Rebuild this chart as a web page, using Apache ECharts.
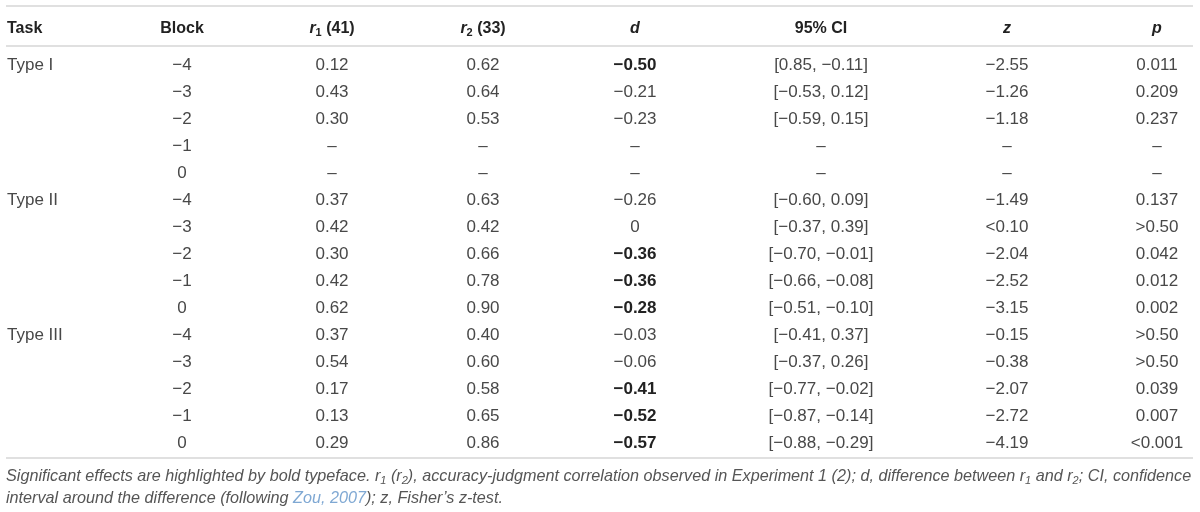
<!DOCTYPE html>
<html>
<head>
<meta charset="utf-8">
<script src="https://cdn.jsdelivr.net/npm/echarts@6.0.0/dist/echarts.min.js"></script>
<style>
  html, body { margin: 0; padding: 0; background: #fff; }
  #chart { width: 1200px; height: 512px; }
</style>
</head>
<body>
<div id="chart"></div>
<script>
// table content
const headers = ['Task', 'Block', '{bi|r}{bs|1}{b| (41)}', '{bi|r}{bs|2}{b| (33)}', '{bi|d}', '95% CI', '{bi|z}', '{bi|p}'];
const tasks = ['Type I', '', '', '', '', 'Type II', '', '', '', '', 'Type III', '', '', '', ''];
const blocks = ['\u22124', '\u22123', '\u22122', '\u22121', '0', '\u22124', '\u22123', '\u22122', '\u22121', '0', '\u22124', '\u22123', '\u22122', '\u22121', '0'];
const r1 = ['0.12', '0.43', '0.30', '\u2013', '\u2013', '0.37', '0.42', '0.30', '0.42', '0.62', '0.37', '0.54', '0.17', '0.13', '0.29'];
const r2 = ['0.62', '0.64', '0.53', '\u2013', '\u2013', '0.63', '0.42', '0.66', '0.78', '0.90', '0.40', '0.60', '0.58', '0.65', '0.86'];
const dVals = ['\u22120.50', '\u22120.21', '\u22120.23', '\u2013', '\u2013', '\u22120.26', '0', '\u22120.36', '\u22120.36', '\u22120.28', '\u22120.03', '\u22120.06', '\u22120.41', '\u22120.52', '\u22120.57'];
const significant = [true, false, false, false, false, false, false, true, true, true, false, false, true, true, true];
const ci = ['[0.85, \u22120.11]', '[\u22120.53, 0.12]', '[\u22120.59, 0.15]', '\u2013', '\u2013', '[\u22120.60, 0.09]', '[\u22120.37, 0.39]', '[\u22120.70, \u22120.01]', '[\u22120.66, \u22120.08]', '[\u22120.51, \u22120.10]', '[\u22120.41, 0.37]', '[\u22120.37, 0.26]', '[\u22120.77, \u22120.02]', '[\u22120.87, \u22120.14]', '[\u22120.88, \u22120.29]'];
const zVals = ['\u22122.55', '\u22121.26', '\u22121.18', '\u2013', '\u2013', '\u22121.49', '<0.10', '\u22122.04', '\u22122.52', '\u22123.15', '\u22120.15', '\u22120.38', '\u22122.07', '\u22122.72', '\u22124.19'];
const pVals = ['0.011', '0.209', '0.237', '\u2013', '\u2013', '0.137', '>0.50', '0.042', '0.012', '0.002', '>0.50', '>0.50', '0.039', '0.007', '<0.001'];
const footLine1 = '{t|Significant effects are highlighted by bold typeface. r}{s|1}{t| (r}{s|2}{t|), accuracy-judgment correlation observed in Experiment 1 (2); d, difference between r}{s|1}{t| and r}{s|2}{t|; CI, confidence}';
const footLine2 = '{t|interval around the difference (following }{a|Zou, 2007}{t|); z, Fisher\u2019s z-test.}';

// layout
const FONT = "'Helvetica Neue', 'Liberation Sans', Arial, sans-serif";
const SIZE = 17;
const colX = [7, 182, 332, 483, 635, 821, 1007, 1157];
const colAlign = ['left', 'center', 'center', 'center', 'center', 'center', 'center', 'center'];
const headerGap = 1.35;

const columns = [tasks, blocks, r1, r2, dVals, ci, zVals, pVals];
const rowKeys = blocks.map((b, i) => 'row' + i);

const cells = [];
columns.forEach((col, c) => {
    col.forEach((txt, r) => {
        if (txt !== '') cells.push([colX[c], r, c]);
    });
});
const headerCells = headers.map((h, c) => [colX[c], 0, c]);

const headRich = {
    b: { fontFamily: FONT, fontSize: 16, fontWeight: 'bold', fill: '#222', lineHeight: 20 },
    bi: { fontFamily: FONT, fontSize: 16, fontWeight: 'bold', fontStyle: 'italic', fill: '#222', lineHeight: 20 },
    bs: { fontFamily: FONT, fontSize: 11, fontWeight: 'bold', fill: '#222', lineHeight: 11, verticalAlign: 'bottom' }
};
const footRich = {
    t: { fontFamily: FONT, fontSize: 16.2, fontStyle: 'italic', fill: '#555', lineHeight: 20 },
    a: { fontFamily: FONT, fontSize: 16.2, fontStyle: 'italic', fill: '#7fa8d3', lineHeight: 20 },
    s: { fontFamily: FONT, fontSize: 11, fontStyle: 'italic', fill: '#555', lineHeight: 10, verticalAlign: 'bottom' }
};

const chart = echarts.init(document.getElementById('chart'));

function ruleLine(y) {
    return {
        type: 'line',
        shape: { x1: 6, y1: y, x2: 1193, y2: y },
        style: { stroke: '#d6d6d6', lineWidth: 1.5 },
        silent: true
    };
}

chart.setOption({
    backgroundColor: '#fff',
    animation: false,
    grid: { left: 0, right: 0, top: 51.5, bottom: 55.5 },
    xAxis: { type: 'value', min: 0, max: 1200, show: false },
    yAxis: { type: 'category', data: rowKeys, inverse: true, show: false },
    series: [
        {
            type: 'custom',
            data: cells,
            renderItem: function (params, api) {
                const c = api.value(2);
                const r = api.value(1);
                const pt = api.coord([api.value(0), r]);
                const bold = c === 4 && significant[r];
                return {
                    type: 'text',
                    x: pt[0],
                    y: pt[1],
                    style: {
                        text: columns[c][r],
                        fontFamily: FONT,
                        fontSize: SIZE,
                        fontWeight: bold ? 'bold' : 'normal',
                        fill: bold ? '#222' : '#484848',
                        align: colAlign[c],
                        verticalAlign: 'middle'
                    }
                };
            }
        },
        {
            type: 'custom',
            data: headerCells,
            renderItem: function (params, api) {
                const c = api.value(2);
                const pt = api.coord([api.value(0), 0]);
                const band = api.size([0, 1])[1];
                return {
                    type: 'text',
                    x: pt[0],
                    y: pt[1] - headerGap * band,
                    style: {
                        text: headers[c].indexOf('{') === 0 ? headers[c] : '{b|' + headers[c] + '}',
                        rich: headRich,
                        align: colAlign[c],
                        verticalAlign: 'middle'
                    }
                };
            }
        }
    ],
    graphic: [
        ruleLine(6),
        ruleLine(46),
        ruleLine(458),
        {
            type: 'text',
            x: 6,
            y: 476,
            style: { text: footLine1, rich: footRich, verticalAlign: 'middle', align: 'left' },
            silent: true
        },
        {
            type: 'text',
            x: 6,
            y: 498,
            style: { text: footLine2, rich: footRich, verticalAlign: 'middle', align: 'left' },
            silent: true
        }
    ]
});

window.addEventListener('resize', () => chart.resize());
</script>
</body>
</html>
